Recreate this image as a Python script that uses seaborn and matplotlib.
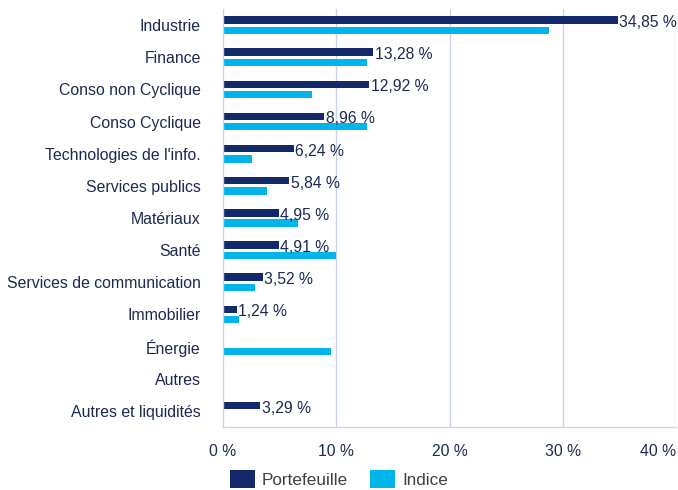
import matplotlib
matplotlib.use("Agg")
import matplotlib.pyplot as plt
from matplotlib.patches import Patch
import seaborn as sns
import pandas as pd

categories = ["Industrie", "Finance", "Conso non Cyclique", "Conso Cyclique",
              "Technologies de l'info.", "Services publics", "Matériaux", "Santé",
              "Services de communication", "Immobilier", "Énergie", "Autres",
              "Autres et liquidités"]
portefeuille = [34.85, 13.28, 12.92, 8.96, 6.24, 5.84, 4.95, 4.91, 3.52, 1.24, 0.0, 0.0, 3.29]
indice = [28.8, 12.75, 7.9, 12.75, 2.56, 3.86, 6.63, 9.95, 2.83, 1.41, 9.57, 0.0, 0.0]
series_names = ["Portefeuille", "Indice"]
x_ticks = [0, 10, 20, 30, 40]

navy = "#13296b"
cyan = "#00b5ea"
grid_c = "#c9d4e4"
text_c = "#1c2a52"

sns.set_theme(style="white")
plt.rcParams["font.family"] = ["Liberation Sans", "DejaVu Sans"]

df = pd.DataFrame({
    "cat": categories * 2,
    "val": portefeuille + indice,
    "serie": [series_names[0]] * len(categories) + [series_names[1]] * len(categories),
})

fig = plt.figure(figsize=(6.78, 4.90), dpi=100)
ax = fig.add_axes([223 / 678, 63 / 490, 453 / 678, 418 / 490])

sns.barplot(data=df, y="cat", x="val", hue="serie", order=categories,
            hue_order=series_names, palette=[navy, cyan], orient="h",
            width=0.64, gap=0.28, ax=ax, legend=False, saturation=1,
            linewidth=0, edgecolor="none")

ax.set_xlim(0, 40)
ax.set_ylim(len(categories) - 0.5, -0.5)
ax.set_xticks(x_ticks)
ax.set_xticklabels([f"{t} %" for t in x_ticks], color=text_c, fontsize=11.3)
ax.get_xticklabels()[-1].set_horizontalalignment("right")
ax.set_xlabel("")
ax.set_ylabel("")
ax.tick_params(axis="x", length=0, pad=12)
ax.tick_params(axis="y", which="major", length=0, pad=16, labelsize=11.4, labelcolor=text_c)
ax.set_yticks([i + 0.5 for i in range(-1, len(categories))], minor=True)
ax.tick_params(axis="y", which="minor", length=14, width=1, color=grid_c)

ax.grid(False)
for t in x_ticks[1:]:
    ax.axvline(t, color=grid_c, lw=1, zorder=0)
for side in ["top", "right"]:
    ax.spines[side].set_visible(False)
for side in ["left", "bottom"]:
    ax.spines[side].set_color(grid_c)
    ax.spines[side].set_linewidth(1)

labels = [f"{v:.2f} %".replace(".", ",") if v > 0 else "" for v in portefeuille]
txts = ax.bar_label(ax.containers[0], labels=labels, padding=1, fontsize=11.3, color=text_c)
for t in txts:
    t.xyann = (1, -1.8)

handles = [Patch(facecolor=navy, edgecolor="none"), Patch(facecolor=cyan, edgecolor="none")]
leg = fig.legend(handles, series_names, loc="lower center", bbox_to_anchor=(0.5, -0.027),
                 ncol=2, frameon=False, fontsize=12.3, handlelength=1.45, handleheight=1.25,
                 columnspacing=1.3, handletextpad=0.4)
for t in leg.get_texts():
    t.set_color("#404040")

fig.savefig("out.png", dpi=100)
